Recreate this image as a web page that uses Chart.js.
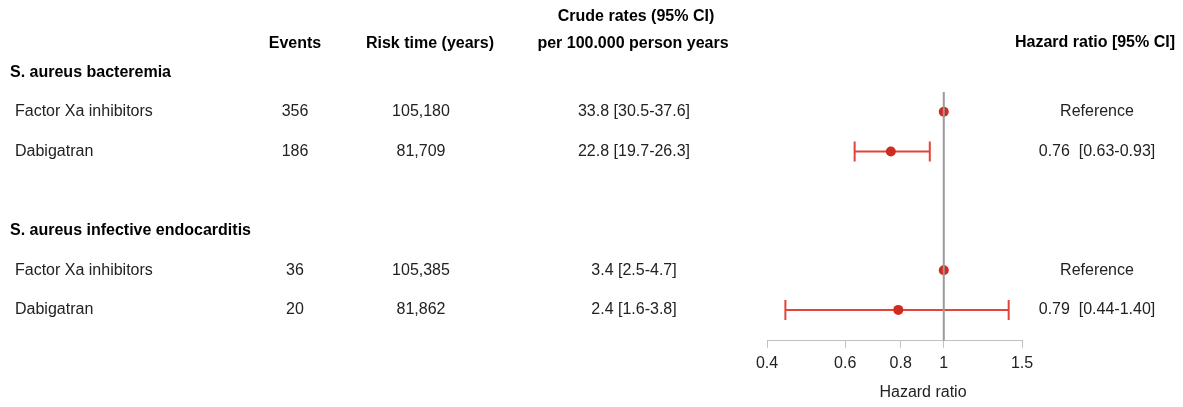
<!DOCTYPE html>
<html>
<head>
<meta charset="utf-8">
<script src="https://cdn.jsdelivr.net/npm/chart.js@4.4.0/dist/chart.umd.min.js"></script>
<style>
  html, body { margin: 0; padding: 0; background: #fff; }
  #wrap { width: 1183px; height: 407px; position: relative; }
</style>
</head>
<body>
<div id="wrap"><canvas id="c" width="1183" height="407"></canvas></div>
<script>
// ---- data ----
const groups = ['S. aureus bacteremia', 'S. aureus infective endocarditis'];
const groupRow = [0, 4];
const rowLabels = ['Factor Xa inhibitors', 'Dabigatran', 'Factor Xa inhibitors', 'Dabigatran'];
const rowIndex = [1, 2, 5, 6];
const events = [356, 186, 36, 20];
const riskTime = [105180, 81709, 105385, 81862];
const rate = [33.8, 22.8, 3.4, 2.4];
const rateLow = [30.5, 19.7, 2.5, 1.6];
const rateHigh = [37.6, 26.3, 4.7, 3.8];
const hr = [1, 0.76, 1, 0.79];
const hrLow = [null, 0.63, null, 0.44];
const hrHigh = [null, 0.93, null, 1.40];
const xTicks = [0.4, 0.6, 0.8, 1, 1.5];
const colHeaders = ['Events', 'Risk time (years)', 'Crude rates (95% CI)', 'per 100.000 person years', 'Hazard ratio [95% CI]'];
const xTitle = 'Hazard ratio';

const FONT = '"Liberation Sans", Arial, Helvetica, sans-serif';
const FS = 16;
const RED_PT = '#d02b20';
const RED_BAR = '#e0443a';

const tablePlugin = {
  id: 'table',
  beforeDatasetsDraw(chart) {
    const ctx = chart.ctx, xs = chart.scales.x, ys = chart.scales.y;
    ctx.save();
    ctx.strokeStyle = RED_BAR;
    ctx.lineWidth = 2;
    for (let i = 0; i < hr.length; i++) {
      if (hrLow[i] == null) continue;
      const y = ys.getPixelForValue(rowIndex[i]);
      const x1 = xs.getPixelForValue(hrLow[i]);
      const x2 = xs.getPixelForValue(hrHigh[i]);
      ctx.beginPath();
      ctx.moveTo(x1, y); ctx.lineTo(x2, y);
      ctx.moveTo(x1, y - 10); ctx.lineTo(x1, y + 10);
      ctx.moveTo(x2, y - 10); ctx.lineTo(x2, y + 10);
      ctx.stroke();
    }
    ctx.restore();
  },
  afterDraw(chart) {
    const ctx = chart.ctx, ys = chart.scales.y;
    ctx.save();
    ctx.textBaseline = 'middle';
    // column headers
    ctx.font = 'bold ' + FS + 'px ' + FONT;
    ctx.fillStyle = '#000';
    ctx.textAlign = 'center';
    ctx.fillText(colHeaders[0], 295, 44);
    ctx.fillText(colHeaders[1], 430, 44);
    ctx.fillText(colHeaders[2], 636, 17);
    ctx.fillText(colHeaders[3], 633, 44);
    ctx.fillText(colHeaders[4], 1095, 43);
    // group headers
    ctx.textAlign = 'left';
    for (let g = 0; g < groups.length; g++) {
      ctx.fillText(groups[g], 10, ys.getPixelForValue(groupRow[g]));
    }
    // rows
    ctx.font = FS + 'px ' + FONT;
    ctx.fillStyle = '#222';
    for (let i = 0; i < rowLabels.length; i++) {
      const y = ys.getPixelForValue(rowIndex[i]);
      ctx.textAlign = 'left';
      ctx.fillText(rowLabels[i], 15, y);
      ctx.textAlign = 'center';
      ctx.fillText(String(events[i]), 295, y);
      ctx.fillText(riskTime[i].toLocaleString('en-US'), 421, y);
      ctx.fillText(rate[i].toFixed(1) + ' [' + rateLow[i].toFixed(1) + '-' + rateHigh[i].toFixed(1) + ']', 634, y);
      const t = hrLow[i] == null ? 'Reference'
        : hr[i].toFixed(2) + '  [' + hrLow[i].toFixed(2) + '-' + hrHigh[i].toFixed(2) + ']';
      ctx.fillText(t, 1097, y);
    }
    // x axis title
    ctx.fillText(xTitle, 923, 393);
    ctx.restore();
  }
};

new Chart(document.getElementById('c'), {
  data: {
    datasets: [
      {
        type: 'line',
        data: [{ x: 1, y: 0.5 }, { x: 1, y: 6.78 }],
        borderColor: '#9a9a9a',
        borderWidth: 2,
        pointRadius: 0,
        fill: false
      },
      {
        type: 'scatter',
        data: hr.map((v, i) => ({ x: v, y: rowIndex[i] })),
        backgroundColor: RED_PT,
        borderColor: RED_PT,
        pointRadius: 5,
        borderWidth: 0
      }
    ]
  },
  options: {
    responsive: false,
    animation: false,
    events: [],
    layout: { padding: { left: 767, right: 161, top: 92, bottom: 28 } },
    plugins: { legend: { display: false }, tooltip: { enabled: false } },
    scales: {
      x: {
        type: 'logarithmic',
        min: 0.4,
        max: 1.5,
        afterBuildTicks: (s) => { s.ticks = xTicks.map(v => ({ value: v })); },
        ticks: {
          callback: (v) => String(v),
          font: { size: FS, family: FONT },
          color: '#222',
          padding: 6,
          maxRotation: 0,
          autoSkip: false
        },
        grid: { drawOnChartArea: false, drawTicks: true, tickLength: 7, color: '#c0c0c0', lineWidth: 1 },
        border: { display: true, color: '#c0c0c0', width: 1 }
      },
      y: {
        type: 'linear',
        reverse: true,
        min: 0.5,
        max: 6.78,
        display: false
      }
    }
  },
  plugins: [tablePlugin]
});
</script>
</body>
</html>
